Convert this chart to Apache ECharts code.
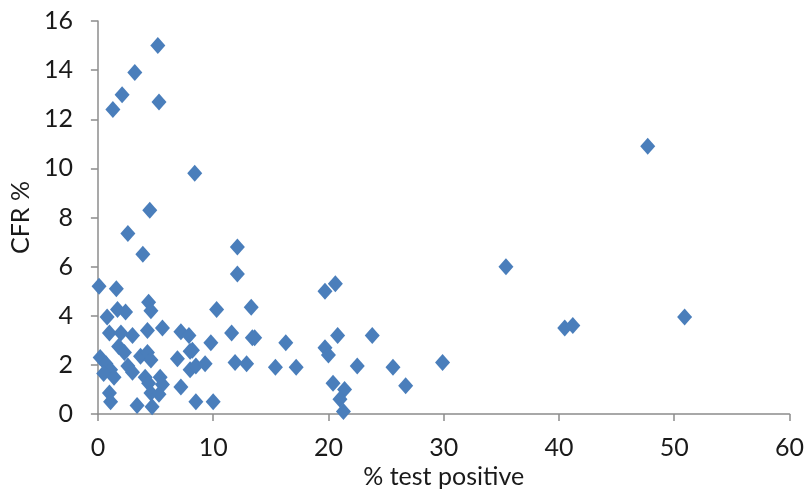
<!DOCTYPE html>
<html><head><meta charset="utf-8">
<script src="https://cdn.jsdelivr.net/npm/echarts@6/dist/echarts.min.js"></script>
<style>html,body{margin:0;padding:0;background:#fff}#c{width:807px;height:496px}</style>
</head><body><div id="c"></div>
<script>
// % test positive
const testPositive = [
  5.2, 3.2, 2.1, 1.3, 5.3, 8.4, 4.5, 2.6, 3.9, 12.1, 12.1, 35.4, 47.7, 50.9, 40.5, 41.2, 29.9,
  19.7, 20.6, 20.8, 23.8, 19.7, 20.0, 22.5, 25.6, 20.4, 21.4, 21.0, 21.3, 26.7,
  10.3, 13.3, 11.6, 13.4, 13.6, 16.3, 11.9, 12.9, 15.4, 17.2, 9.8, 8.5, 10.0,
  0.1, 1.6, 0.8, 1.7, 2.4, 4.4, 4.6, 1.0, 2.0, 3.0, 4.3, 5.6, 7.2, 7.9,
  0.2, 0.7, 1.1, 1.8, 2.3, 0.5, 1.4, 1.0, 1.1, 2.6, 3.0, 3.7, 4.3, 4.6,
  4.1, 4.4, 5.4, 5.6, 4.6, 4.7, 3.4, 5.3, 6.9, 7.2, 8.0, 8.0, 8.5, 9.3, 8.2
];
// CFR %
const cfr = [
  15.0, 13.9, 13.0, 12.4, 12.7, 9.8, 8.3, 7.35, 6.5, 6.8, 5.7, 6.0, 10.9, 3.95, 3.5, 3.6, 2.1,
  5.0, 5.3, 3.2, 3.2, 2.7, 2.4, 1.95, 1.9, 1.25, 1.0, 0.6, 0.1, 1.15,
  4.25, 4.35, 3.3, 3.1, 3.1, 2.9, 2.1, 2.05, 1.9, 1.9, 2.9, 0.5, 0.5,
  5.2, 5.1, 3.95, 4.25, 4.15, 4.55, 4.2, 3.3, 3.3, 3.2, 3.4, 3.5, 3.35, 3.2,
  2.3, 2.05, 1.8, 2.75, 2.5, 1.65, 1.5, 0.85, 0.5, 1.95, 1.7, 2.35, 2.5, 2.2,
  1.5, 1.25, 1.5, 1.2, 0.85, 0.3, 0.35, 0.8, 2.25, 1.1, 2.55, 1.8, 1.95, 2.05, 2.6
];
const xTicks = [0, 10, 20, 30, 40, 50, 60];
const yTicks = [0, 2, 4, 6, 8, 10, 12, 14, 16];

const points = testPositive.map((x, i) => [x, cfr[i]]);
const font = 'Lato, "Open Sans", sans-serif';
const axisCommon = {
  axisLine: { show: true, lineStyle: { color: '#8c8c8c', width: 1.5 } },
  axisTick: { show: true, length: 7, lineStyle: { color: '#8c8c8c', width: 1.5 } },
  splitLine: { show: false },
  axisLabel: { color: '#1a1a1a', fontSize: 25, fontFamily: font },
  nameTextStyle: { color: '#1a1a1a', fontSize: 25, fontFamily: font }
};
const chart = echarts.init(document.getElementById('c'), null, { renderer: 'canvas' });
chart.setOption({
  animation: false,
  backgroundColor: '#ffffff',
  grid: { left: 97, right: 15, top: 21, bottom: 82 },
  xAxis: Object.assign({}, axisCommon, {
    type: 'value', min: xTicks[0], max: xTicks[xTicks.length - 1], interval: 10,
    name: '% test positive', nameLocation: 'middle', nameGap: 47,
    axisLabel: Object.assign({}, axisCommon.axisLabel, { margin: 21 })
  }),
  yAxis: Object.assign({}, axisCommon, {
    type: 'value', min: yTicks[0], max: yTicks[yTicks.length - 1], interval: 2,
    name: 'CFR %', nameLocation: 'middle', nameGap: 62,
    axisLabel: Object.assign({}, axisCommon.axisLabel, { margin: 25 })
  }),
  series: [{
    type: 'scatter',
    data: points,
    symbol: 'diamond',
    symbolSize: [15, 17],
    itemStyle: { color: '#4A7EBB', opacity: 1 }
  }]
});
</script></body></html>
